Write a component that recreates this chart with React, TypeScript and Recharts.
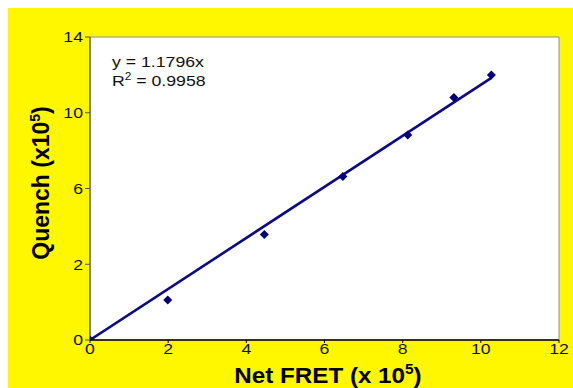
import React from "react";
import {
  ComposedChart,
  Scatter,
  XAxis,
  YAxis,
  CartesianGrid,
  ReferenceArea,
} from "recharts";

// Measured points (Net FRET x10^5 vs Quench x10^5)
const netFret = [0, 1.99, 4.46, 6.47, 8.13, 9.31, 10.27];
const quench = [0, 1.85, 4.88, 7.55, 9.47, 11.2, 12.25];

// Linear trend line endpoints (y = 1.1796x)
const trendX = [0, 10.27];
const trendY = [0, 12.11];

const xTicks = [0, 2, 4, 6, 8, 10, 12];
const yTicks = [0, 3.5, 7, 10.5, 14];
const yTickLabels = ["0", "2", "6", "10", "14"];

const points = netFret.map((x, i) => ({ x, y: quench[i] }));
const trend = trendX.map((x, i) => ({ x, y: trendY[i] }));

const W = 565;
const H = 380;
const FONT = "'Liberation Sans', Arial, Helvetica, sans-serif";
const NAVY = "#0b0b86";
const SX = 1.18;

const Diamond = (props: any) => {
  const { cx, cy } = props;
  if (cx == null || cy == null) return null;
  const r = 4.5;
  return (
    <polygon
      points={`${cx},${cy - r} ${cx + r},${cy} ${cx},${cy + r} ${cx - r},${cy}`}
      fill="#000080"
    />
  );
};

const NoShape = () => null;

const XTick = (props: any) => {
  const { x, y, payload } = props;
  return (
    <g transform={`translate(${x},${y}) scale(${SX},1)`}>
      <text x={0} y={0} dy="0.71em" textAnchor="middle" fontSize={15} fontFamily={FONT} fill="#111">
        {payload.value}
      </text>
    </g>
  );
};

const YTick = (props: any) => {
  const { x, y, payload } = props;
  const i = yTicks.indexOf(payload.value);
  return (
    <g transform={`translate(${x},${y}) scale(${SX},1)`}>
      <text x={0} y={0} dy="0.355em" textAnchor="end" fontSize={15} fontFamily={FONT} fill="#111">
        {i >= 0 ? yTickLabels[i] : ""}
      </text>
    </g>
  );
};

export default function App() {
  return (
    <div style={{ width: 573, height: 388, paddingLeft: 8, paddingTop: 8, boxSizing: "border-box", background: "#fff" }}>
      <style>{"html,body{margin:0;padding:0;overflow:hidden} .recharts-wrapper, .recharts-surface{overflow:visible !important}"}</style>
      <div style={{ position: "relative", width: W, height: H, background: "#fff700" }}>
        <ComposedChart
          width={W}
          height={H}
          margin={{ top: 29, right: 14, bottom: 0, left: 0 }}
        >
          <CartesianGrid fill="#ffffff" horizontal={false} vertical={false} />
          <ReferenceArea x1={0} x2={12} y1={0} y2={14} fill="none" stroke="#8e8e8e" strokeWidth={1} ifOverflow="visible" />
          <XAxis
            type="number"
            dataKey="x"
            domain={[0, 12]}
            ticks={xTicks}
            interval={0}
            height={48}
            tickSize={3}
            tickMargin={0}
            axisLine={{ stroke: "#000", strokeWidth: 1.5 }}
            tickLine={{ stroke: "#000" }}
            tick={<XTick />}
            allowDataOverflow
          />
          <YAxis
            type="number"
            dataKey="y"
            domain={[0, 14]}
            ticks={yTicks}
            interval={0}
            width={82}
            tickSize={5}
            tickMargin={2}
            axisLine={{ stroke: "#555", strokeWidth: 1.2 }}
            tickLine={{ stroke: "#555" }}
            tick={<YTick />}
            allowDataOverflow
          />
          <Scatter data={trend} line={{ stroke: NAVY, strokeWidth: 2.6 }} shape={NoShape} isAnimationActive={false} />
          <Scatter data={points} shape={Diamond} isAnimationActive={false} />
        </ComposedChart>
        <svg width={W} height={H} style={{ position: "absolute", left: 0, top: 0, pointerEvents: "none", overflow: "visible" }}>
          <g transform={`translate(104,59) scale(${SX},1)`}>
            <text x={0} y={0} fontSize={15} fontFamily={FONT} fill="#111">y = 1.1796x</text>
          </g>
          <g transform={`translate(104,78) scale(${SX},1)`}>
            <text x={0} y={0} fontSize={15} fontFamily={FONT} fill="#111">
              R<tspan fontSize={10} dy={-6}>2</tspan><tspan dy={6}> = 0.9958</tspan>
            </text>
          </g>
          <g transform="translate(320,375) scale(1.1,1)">
            <text x={0} y={0} textAnchor="middle" fontSize={22} fontWeight="bold" fontFamily={FONT} fill="#000">
              Net FRET (x 10<tspan fontSize={14} dy={-9}>5</tspan><tspan dy={9}>)</tspan>
            </text>
          </g>
          <text x={41} y={175} textAnchor="middle" transform="rotate(-90 41 175)" fontSize={23} fontWeight="bold" fontFamily={FONT} fill="#000">
            Quench (x10<tspan fontSize={14} dy={-9}>5</tspan><tspan dy={9}>)</tspan>
          </text>
        </svg>
      </div>
    </div>
  );
}
